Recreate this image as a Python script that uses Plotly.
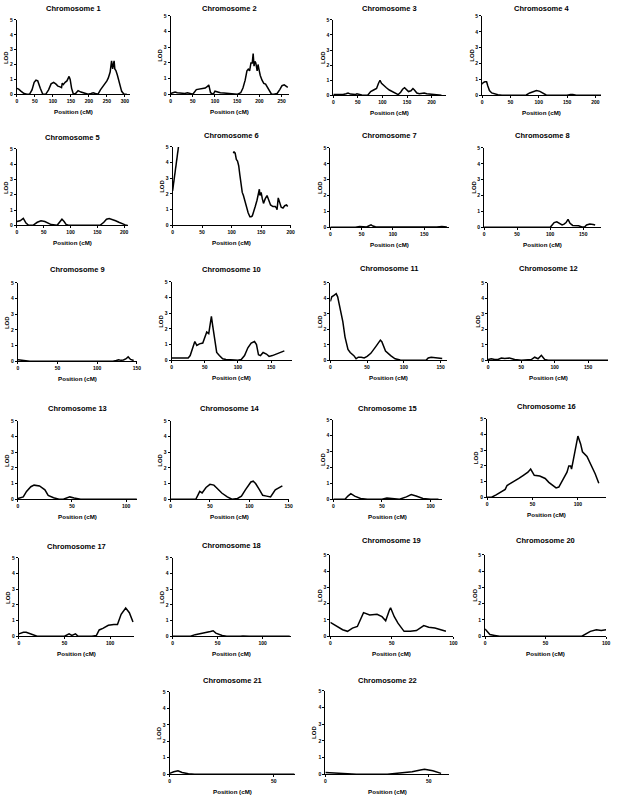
"""
全基因组 LOD 扫描图 - 使用 Plotly 按染色体绘制 22 个小图。
"""

import plotly.graph_objects as go

# 各染色体的位置 (cM) 与 LOD 值
chr1_pos = [0, 5, 12, 20, 28, 35, 42, 48, 53, 58, 65, 72, 80, 88, 95, 102, 108, 114, 120, 124,
            126, 129, 134, 139, 145, 148, 152, 157, 163, 170, 178, 188, 198, 206, 212, 218, 225, 232, 238, 245,
            250, 254, 259, 263, 266, 268, 270, 272, 275, 279, 283, 287, 291, 297, 305]
chr1_lod = [0.4, 0.35, 0.2, 0.05, 0, 0, 0.3, 0.8, 0.95, 0.9, 0.4, 0, 0, 0.3, 0.7, 0.8, 0.7, 0.55, 0.5, 0.45,
            0.75, 0.65, 0.8, 0.9, 1.2, 1.0, 0.4, 0, 0.05, 0.25, 0.15, 0.05, 0, 0.05, 0.1, 0.05, 0, 0.3, 0.5, 0.7,
            0.9, 1.1, 1.5, 2.25, 1.7, 2.0, 2.25, 1.7, 1.6, 1.3, 0.9, 0.5, 0.2, 0.02, 0]

chr2_pos = [0, 5, 10, 15, 25, 32, 38, 44, 50, 58, 65, 72, 78, 83, 86, 90, 96, 100, 105, 112,
            120, 130, 140, 150, 158, 163, 168, 172, 175, 178, 181, 184, 186, 188, 190, 192, 195, 197, 199, 202,
            206, 210, 214, 218, 222, 227, 233, 240, 246, 251, 256, 260, 264]
chr2_lod = [0.05, 0.1, 0.15, 0.1, 0.05, 0.05, 0.1, 0.05, 0, 0.3, 0.35, 0.4, 0.4, 0.5, 0.6, 0.1, 0, 0.2, 0.15, 0.1,
            0.08, 0.05, 0.02, 0, 0.1, 0.4, 0.9, 1.5, 1.6, 1.5, 2.0, 2.0, 2.6, 1.8, 2.1, 2.0, 1.5, 1.9, 1.6, 1.2,
            0.9, 0.7, 0.65, 0.45, 0.2, 0.02, 0, 0.05, 0.3, 0.55, 0.6, 0.5, 0.45]

chr3_pos = [0, 10, 20, 26, 30, 35, 40, 45, 48, 52, 58, 70, 76, 82, 88, 92, 95, 98, 102, 108,
            114, 120, 126, 132, 137, 141, 145, 149, 153, 158, 162, 165, 170, 175, 180, 185, 190, 195, 200, 210, 220]
chr3_lod = [0.05, 0.05, 0.05, 0.1, 0.15, 0.08, 0.05, 0.05, 0.1, 0.05, 0.02, 0, 0.25, 0.35, 0.45, 0.8, 1.0, 0.8, 0.65, 0.5,
            0.35, 0.25, 0.1, 0.05, 0.2, 0.4, 0.5, 0.35, 0.25, 0.3, 0.45, 0.35, 0.15, 0.1, 0.15, 0.15, 0.1, 0.08, 0.05, 0.02, 0]

chr4_pos = [0, 2, 5, 8, 10, 13, 17, 22, 28, 35, 45, 60, 78, 84, 90, 96, 102, 108, 113, 130,
            150, 156, 160, 166, 180, 200, 210]
chr4_lod = [0.7, 0.8, 0.85, 0.85, 0.6, 0.3, 0.15, 0.08, 0.03, 0, 0, 0, 0.02, 0.15, 0.25, 0.3, 0.25, 0.12, 0.02, 0,
            0, 0.05, 0.05, 0, 0, 0, 0]

chr5_pos = [0, 6, 12, 17, 22, 30, 38, 45, 52, 58, 64, 75, 80, 84, 88, 92, 96, 120, 155, 162,
            167, 172, 178, 184, 190, 196, 202, 206]
chr5_lod = [0.25, 0.3, 0.45, 0.15, 0, 0, 0.2, 0.3, 0.25, 0.15, 0.05, 0, 0.2, 0.4, 0.25, 0.05, 0, 0, 0, 0.2,
            0.4, 0.45, 0.4, 0.3, 0.2, 0.1, 0.03, 0]

# 6 号染色体中段缺失数据（None 断开曲线）
chr6_pos = [0, 2, 4, 6, 8, 10, 11, None, 103, 104, 106, 108, 110, 112, 114, 116, 118, 120, 122, 125,
            128, 131, 133, 135, 137, 140, 143, 145, 147, 148, 150, 152, 154, 157, 160, 163, 166, 170, 174, 176,
            177, 179, 181, 184, 187, 190, 193, 195]
chr6_lod = [2.2, 2.8, 3.4, 3.9, 4.4, 4.9, 5.3, None, 4.6, 4.7, 4.6, 4.2, 4.1, 3.8, 3.2, 2.6, 2.1, 1.9, 1.6, 1.2,
            0.8, 0.55, 0.55, 0.6, 0.8, 1.2, 1.6, 1.9, 2.3, 1.9, 2.1, 1.7, 1.4, 1.7, 1.9, 1.6, 1.3, 1.2, 1.2, 1.1,
            1.0, 1.75, 1.5, 1.15, 1.1, 1.25, 1.3, 1.2]

chr7_pos = [0, 20, 40, 47, 52, 58, 62, 65, 68, 72, 80, 100, 120, 150, 170, 178, 182, 186]
chr7_lod = [0, 0, 0, 0.05, 0.02, 0.02, 0.1, 0.15, 0.08, 0.03, 0.02, 0.02, 0, 0, 0.02, 0.05, 0.04, 0.02]

chr8_pos = [0, 50, 100, 103, 106, 110, 114, 118, 121, 124, 127, 130, 134, 138, 143, 148, 152, 155, 160, 165, 168]
chr8_lod = [0, 0, 0, 0.15, 0.3, 0.35, 0.25, 0.15, 0.2, 0.3, 0.5, 0.25, 0.12, 0.1, 0.1, 0.02, 0.02, 0.15, 0.2, 0.18, 0.15]

chr9_pos = [0, 3, 8, 15, 50, 95, 98, 102, 120, 124, 127, 130, 133, 136, 139, 142, 146]
chr9_lod = [0.1, 0.08, 0.02, 0, 0, 0, 0.04, 0, 0, 0.05, 0.1, 0.06, 0.08, 0.15, 0.28, 0.12, 0.05]

chr10_pos = [0, 10, 20, 25, 28, 31, 35, 38, 42, 47, 50, 53, 56, 58, 60, 62, 65, 68, 72, 77,
             82, 90, 95, 100, 105, 110, 115, 120, 125, 128, 131, 134, 138, 143, 147, 152, 158, 164, 170]
chr10_lod = [0.15, 0.15, 0.15, 0.15, 0.3, 0.7, 1.2, 0.95, 1.05, 1.1, 1.5, 1.8, 1.7, 2.3, 2.8, 2.2, 1.2, 0.5, 0.3, 0.1,
             0.05, 0.05, 0.02, 0, 0.05, 0.3, 0.8, 1.1, 1.2, 1.0, 0.35, 0.3, 0.5, 0.4, 0.25, 0.3, 0.4, 0.5, 0.6]

chr11_pos = [0, 2, 5, 8, 10, 14, 17, 20, 24, 27, 32, 35, 38, 42, 46, 50, 55, 62, 68, 70,
             75, 82, 88, 95, 100, 130, 133, 137, 145, 152]
chr11_lod = [3.8, 4.1, 4.2, 4.3, 4.1, 3.2, 2.5, 1.5, 0.7, 0.5, 0.3, 0.1, 0.2, 0.2, 0.15, 0.25, 0.45, 0.9, 1.3, 1.2,
             0.6, 0.3, 0.1, 0.02, 0, 0, 0.15, 0.2, 0.15, 0.12]

chr12_pos = [0, 5, 10, 15, 20, 25, 32, 40, 50, 65, 70, 75, 80, 85, 90, 120, 180]
chr12_lod = [0.05, 0.1, 0.05, 0.05, 0.15, 0.12, 0.15, 0.05, 0, 0.05, 0.2, 0.1, 0.32, 0.05, 0, 0, 0]

chr13_pos = [0, 5, 8, 12, 15, 20, 25, 28, 33, 38, 42, 46, 48, 52, 58, 80, 110]
chr13_lod = [0.05, 0.15, 0.5, 0.8, 0.9, 0.85, 0.6, 0.25, 0.1, 0, 0, 0.1, 0.15, 0.08, 0, 0, 0]

chr14_pos = [0, 32, 35, 37, 40, 45, 50, 55, 58, 65, 72, 78, 85, 90, 95, 98, 102, 105, 108, 113,
             117, 122, 127, 133, 137, 142]
chr14_lod = [0, 0, 0.3, 0.5, 0.4, 0.75, 0.95, 0.9, 0.75, 0.4, 0.15, 0, 0.05, 0.2, 0.6, 0.85, 1.1, 1.15, 1.0, 0.6,
             0.25, 0.2, 0.15, 0.6, 0.7, 0.85]

chr15_pos = [0, 12, 15, 18, 22, 28, 35, 50, 55, 60, 68, 75, 80, 85, 92, 100, 108]
chr15_lod = [0, 0, 0.2, 0.35, 0.2, 0.05, 0, 0, 0.08, 0.05, 0, 0.15, 0.3, 0.2, 0.05, 0, 0]

chr16_pos = [0, 5, 10, 15, 20, 22, 30, 35, 40, 45, 48, 52, 58, 64, 68, 72, 76, 79, 84, 88,
             90, 92, 93, 97, 100, 103, 105, 110, 115, 119, 123]
chr16_lod = [0, 0, 0.15, 0.35, 0.5, 0.75, 1.0, 1.2, 1.4, 1.6, 1.8, 1.4, 1.35, 1.2, 0.95, 0.8, 0.6, 0.65, 1.2, 1.6,
             2.0, 2.0, 1.8, 3.0, 3.9, 3.4, 2.9, 2.6, 2.0, 1.5, 0.9]

chr17_pos = [0, 5, 8, 12, 17, 20, 50, 55, 58, 62, 65, 80, 85, 88, 92, 98, 104, 108, 112, 117, 121, 125]
chr17_lod = [0.15, 0.25, 0.25, 0.15, 0.05, 0, 0, 0.15, 0.05, 0.15, 0, 0, 0.05, 0.4, 0.5, 0.7, 0.75, 0.75, 1.4, 1.8, 1.5, 0.9]

chr18_pos = [0, 20, 25, 35, 42, 45, 48, 55, 60, 75, 78, 85, 130]
chr18_lod = [0, 0, 0.1, 0.2, 0.3, 0.35, 0.2, 0.05, 0, 0, 0.02, 0, 0]

chr19_pos = [0, 5, 10, 14, 18, 22, 27, 32, 38, 42, 45, 48, 49, 52, 55, 58, 60, 65, 70, 76, 80, 85, 90, 94]
chr19_lod = [0.85, 0.6, 0.4, 0.3, 0.5, 0.6, 1.45, 1.3, 1.35, 1.2, 0.95, 1.6, 1.75, 1.2, 0.8, 0.5, 0.3, 0.3, 0.35, 0.65,
             0.55, 0.5, 0.4, 0.3]

chr20_pos = [0, 2, 4, 8, 12, 80, 83, 87, 92, 96, 100]
chr20_lod = [0.45, 0.25, 0.1, 0.05, 0, 0, 0.15, 0.3, 0.4, 0.35, 0.4]

chr21_pos = [0, 2, 4, 6, 9, 12, 60]
chr21_lod = [0.05, 0.15, 0.2, 0.1, 0.02, 0, 0]

chr22_pos = [0, 3, 8, 15, 30, 35, 42, 46, 48, 52, 55, 56]
chr22_lod = [0.1, 0.08, 0.02, 0, 0, 0.05, 0.15, 0.25, 0.3, 0.2, 0.1, 0.05]

lod_ticks = [0, 1, 2, 3, 4, 5]

CURVES = {
    1: (chr1_pos, chr1_lod), 2: (chr2_pos, chr2_lod), 3: (chr3_pos, chr3_lod),
    4: (chr4_pos, chr4_lod), 5: (chr5_pos, chr5_lod), 6: (chr6_pos, chr6_lod),
    7: (chr7_pos, chr7_lod), 8: (chr8_pos, chr8_lod), 9: (chr9_pos, chr9_lod),
    10: (chr10_pos, chr10_lod), 11: (chr11_pos, chr11_lod), 12: (chr12_pos, chr12_lod),
    13: (chr13_pos, chr13_lod), 14: (chr14_pos, chr14_lod), 15: (chr15_pos, chr15_lod),
    16: (chr16_pos, chr16_lod), 17: (chr17_pos, chr17_lod), 18: (chr18_pos, chr18_lod),
    19: (chr19_pos, chr19_lod), 20: (chr20_pos, chr20_lod), 21: (chr21_pos, chr21_lod),
    22: (chr22_pos, chr22_lod),
}

# 版面（像素）：染色体, 左, 右, 上, 下, x 轴最大值, 最后一个刻度, 标题 y
W, H = 618, 801
PANELS = [
    (1, 16, 130, 17, 92, 314, 300, 6),
    (2, 171, 290, 13, 92, 266, 250, 6),
    (3, 335, 449, 17, 93, 230, 200, 6),
    (4, 485, 605, 13, 93, 210, 200, 6),
    (5, 16, 128, 147, 224, 207, 200, 136),
    (6, 173, 292, 145, 224, 200, 200, 134),
    (7, 332, 452, 146, 226, 190, 150, 134),
    (8, 487, 605, 146, 226, 177, 150, 134),
    (9, 17, 137, 282, 361, 150, 150, 269),
    (10, 172, 293, 281, 360, 181, 150, 269),
    (11, 332, 450, 282, 360, 159, 150, 268),
    (12, 491, 612, 282, 360, 180, 150, 268),
    (13, 17, 137, 421, 500, 110, 100, 409),
    (14, 171, 290, 421, 500, 150, 150, 409),
    (15, 335, 445, 420, 500, 112, 100, 409),
    (16, 490, 610, 419, 498, 131, 100, 407),
    (17, 18, 134, 559, 638, 126, 100, 548),
    (18, 173, 292, 559, 638, 131, 100, 547),
    (19, 332, 456, 556, 638, 100, 100, 542),
    (20, 488, 610, 556, 638, 100, 100, 542),
    (21, 170, 296, 694, 777, 60, 50, 683),
    (22, 327, 452, 693, 777, 60, 50, 683),
]

FONT = "Liberation Sans, Arial, sans-serif"

fig = go.Figure()
annotations = []
axes = {}

for i, (chrom, left, right, top, bottom, xmax, xlast, title_y) in enumerate(PANELS, start=1):
    pos, lod = CURVES[chrom]
    suffix = "" if i == 1 else str(i)

    fig.add_trace(
        go.Scatter(
            x=pos,
            y=lod,
            mode="lines",
            line={"color": "black", "width": 1.5},
            xaxis="x" + suffix,
            yaxis="y" + suffix,
            showlegend=False,
            hoverinfo="skip",
        )
    )

    common = dict(
        showline=True, linecolor="black", linewidth=1,
        ticks="outside", ticklen=2, tickwidth=1, tickcolor="black",
        showgrid=False, zeroline=False, fixedrange=True,
        tickfont={"family": FONT, "size": 5, "color": "black", "weight": "bold"},
    )
    axes["xaxis" + suffix] = dict(
        domain=[left / W, right / W], anchor="y" + suffix,
        range=[0, xmax], tickvals=list(range(0, xlast + 1, 50)), **common
    )
    axes["yaxis" + suffix] = dict(
        domain=[1 - bottom / H, 1 - top / H], anchor="x" + suffix,
        range=[0, 5], tickvals=lod_ticks, **common
    )

    # 标题、x 轴标题、y 轴标题（均居中锚定）
    cx = (left + right) / 2 / W
    label_y = min(bottom + 17, 794)
    annotations.append(dict(
        text=f"Chromosome {chrom}", x=cx, y=1 - title_y / H,
        xref="paper", yref="paper", showarrow=False,
        xanchor="center", yanchor="middle",
        font={"family": FONT, "size": 7.5, "color": "black", "weight": "bold"},
    ))
    annotations.append(dict(
        text="Position (cM)", x=cx, y=1 - label_y / H,
        xref="paper", yref="paper", showarrow=False,
        xanchor="center", yanchor="middle",
        font={"family": FONT, "size": 6.2, "color": "black", "weight": "bold"},
    ))
    annotations.append(dict(
        text="LOD", x=(left - 11) / W, y=1 - (top + bottom) / 2 / H,
        xref="paper", yref="paper", showarrow=False, textangle=-90,
        xanchor="center", yanchor="middle",
        font={"family": FONT, "size": 6, "color": "black", "weight": "bold"},
    ))

fig.update_layout(
    width=W,
    height=H,
    margin={"t": 0, "b": 0, "l": 0, "r": 0},
    plot_bgcolor="white",
    paper_bgcolor="white",
    annotations=annotations,
    **axes,
)

# 去掉浏览器默认的 body 边距，使图与页面像素对齐；静态图不显示工具栏
fig.write_html(
    "out.html",
    config={"staticPlot": True},
    post_script="document.body.style.margin = '0';",
)
